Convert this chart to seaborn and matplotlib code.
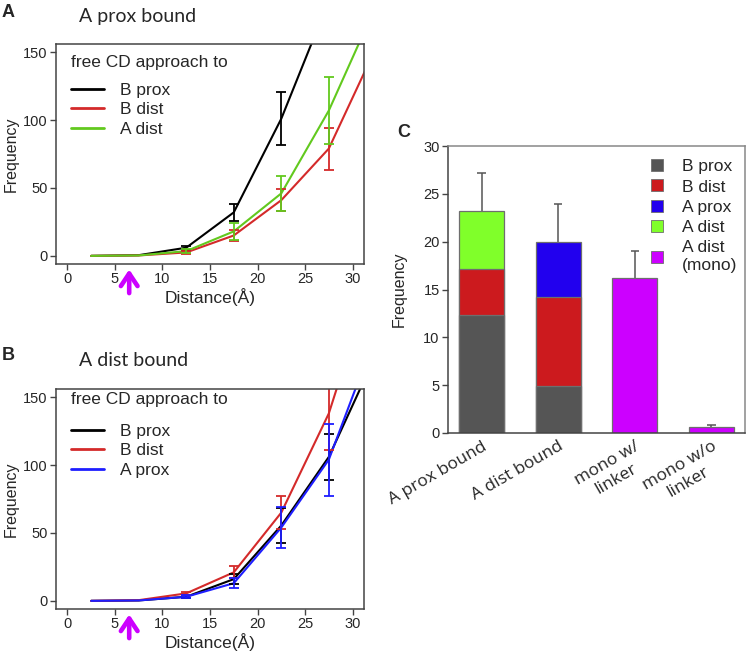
import numpy as np
import pandas as pd
import matplotlib
matplotlib.use('Agg')
import matplotlib.pyplot as plt
from matplotlib.lines import Line2D
import seaborn as sns

# ---- data ----
distance = [2.5, 7.5, 12.5, 17.5, 22.5, 27.5, 32.5]

# panel A: A prox bound
a_bprox = [0, 0.5, 6, 32, 101, 188, 260]
a_bprox_err = [0, 0, 1.5, 6, 19.5, 30, 0]
a_bdist = [0, 0.3, 2.5, 15, 41, 79, 154]
a_bdist_err = [0, 0, 1, 4, 8, 15.5, 0]
a_adist = [0, 0.3, 3.5, 18, 46, 107, 185]
a_adist_err = [0, 0, 1.2, 6, 13, 25, 0]

# panel B: A dist bound
b_bprox = [0, 0.3, 3, 16, 55.5, 106, 182]
b_bprox_err = [0, 0, 1, 3.5, 13, 17, 0]
b_bdist = [0, 0.5, 5.5, 21, 65, 138, 248]
b_bdist_err = [0, 0, 1.2, 4.5, 12.3, 27, 0]
b_aprox = [0, 0.3, 3, 13, 54, 104, 197]
b_aprox_err = [0, 0, 1, 3.5, 15, 26.5, 0]

# panel C: stacked bars
bar_cats = ["A prox bound", "A dist bound", "mono w/\nlinker", "mono w/o\nlinker"]
seg_bprox = [12.3, 4.9, 0, 0]
seg_bdist = [4.8, 9.35, 0, 0]
seg_aprox = [0, 5.75, 0, 0]
seg_adist = [6.1, 0, 0, 0]
seg_mono = [0, 0, 16.2, 0.6]
bar_err = [4.0, 3.9, 2.8, 0.25]

seg_names = ["B prox", "B dist", "A prox", "A dist", "A dist\n(mono)"]
seg_colors = ["#555555", "#CC1A1E", "#2200EE", "#80FF2A", "#CC00FF"]

line_colors = {"B prox": "#000000", "B dist": "#D42A2A",
               "A dist": "#62C91E", "A prox": "#1E1EFF"}

sns.set_style('ticks')
plt.rcParams['font.family'] = ['Liberation Sans', 'DejaVu Sans']
plt.rcParams['axes.edgecolor'] = '#444444'
plt.rcParams['axes.linewidth'] = 1.1

W, H = 747, 656
fig = plt.figure(figsize=(W / 100, H / 100), dpi=100)


def frac(px_left, px_top, px_w, px_h):
    return [px_left / W, 1 - (px_top + px_h) / H, px_w / W, px_h / H]


def line_panel(ax, series, legend_y, title_gap):
    rows = []
    for name, vals, errs in series:
        for x, v in zip(distance, vals):
            rows.append({"Distance": x, "Frequency": v, "series": name})
    df = pd.DataFrame(rows)
    sns.lineplot(data=df, x="Distance", y="Frequency", hue="series",
                 palette=line_colors, ax=ax, lw=1.5, legend=False,
                 hue_order=[s[0] for s in series])
    for name, vals, errs in series:
        xs = [x for x, e in zip(distance, errs) if e > 0]
        ys = [v for v, e in zip(vals, errs) if e > 0]
        es = [e for e in errs if e > 0]
        ax.errorbar(xs, ys, yerr=es, fmt='none', ecolor=line_colors[name],
                    elinewidth=1.3, capsize=3.5, capthick=1.3)
    ax.set_xlim(-1.2, 31.2)
    ax.set_ylim(-6, 156)
    ax.set_xticks([0, 5, 10, 15, 20, 25, 30])
    ax.set_yticks([0, 50, 100, 150])
    ax.tick_params(labelsize=10.5, length=4, width=1, color='#444444', pad=2)
    ax.set_xlabel("Distance(Å)", fontsize=12.5, labelpad=1)
    ax.set_ylabel("Frequency", fontsize=11.5, labelpad=3)
    handles = [Line2D([], [], color=line_colors[n], lw=2) for n, _, _ in series]
    leg = ax.legend(handles, [n for n, _, _ in series], title="free CD approach to",
                    loc='upper left', bbox_to_anchor=(15 / 308, legend_y),
                    frameon=False, fontsize=12.5, title_fontsize=12.5,
                    borderpad=0, borderaxespad=0, handlelength=1.9,
                    handletextpad=0.9, labelspacing=0.25)
    leg._legend_box.align = "left"
    leg._legend_box.sep = title_gap
    ax.annotate('', xy=(6.5, -0.012), xycoords=('data', 'axes fraction'),
                xytext=(6.5, -0.145), textcoords=('data', 'axes fraction'),
                arrowprops=dict(arrowstyle='->,head_length=0.45,head_width=0.3',
                                color='#CC00FF', lw=3.3, mutation_scale=20),
                annotation_clip=False)


axA = fig.add_axes(frac(56, 44, 308, 220))
line_panel(axA, [("B prox", a_bprox, a_bprox_err),
                 ("B dist", a_bdist, a_bdist_err),
                 ("A dist", a_adist, a_adist_err)], 1 - 11 / 220, 9)

axB = fig.add_axes(frac(56, 389, 308, 220))
line_panel(axB, [("B prox", b_bprox, b_bprox_err),
                 ("B dist", b_bdist, b_bdist_err),
                 ("A prox", b_aprox, b_aprox_err)], 1 - 3 / 220, 12)

# ---- panel C ----
axC = fig.add_axes(frac(448, 146, 297, 287))
segs = [seg_bprox, seg_bdist, seg_aprox, seg_adist, seg_mono]
cum = np.cumsum(np.array(segs), axis=0)
totals = cum[-1]
xpos = np.arange(len(bar_cats))
# upper-only error bars, drawn behind the bars
axC.vlines(xpos, totals, totals + np.array(bar_err), color='#555555', lw=1.1, zorder=0.5)
axC.hlines(totals + np.array(bar_err), xpos - 0.055, xpos + 0.055,
           color='#555555', lw=1.1, zorder=0.5)
for k in range(len(segs) - 1, -1, -1):
    keep = [i for i, v in enumerate(segs[k]) if v > 0]
    sns.barplot(x=[bar_cats[i] for i in keep], y=[cum[k][i] for i in keep],
                order=bar_cats, color=seg_colors[k], saturation=1,
                width=0.59, edgecolor='#6e6e6e', linewidth=0.9,
                errorbar=None, ax=axC)
axC.set_xlim(-0.44, 3.44)
axC.set_ylim(0, 30)
axC.set_yticks(range(0, 31, 5))
axC.set_ylabel("Frequency", fontsize=11.5, labelpad=12)
axC.set_xlabel("")
axC.tick_params(axis='y', labelsize=10.5, length=4, width=1, color='#444444', pad=2)
axC.tick_params(axis='x', length=0, pad=4)
axC.set_xticks(xpos)
axC.set_xticklabels(bar_cats, rotation=30, ha='right', rotation_mode='anchor',
                    multialignment='center', fontsize=12.5,
                    family=['Open Sans', 'DejaVu Sans'])
for s in ['top', 'right']:
    axC.spines[s].set_color('#888888')
c_handles = [Line2D([], [], marker='s', linestyle='none', markersize=9,
                    markerfacecolor=c, markeredgecolor='#6e6e6e', markeredgewidth=0.6)
             for c in seg_colors]
axC.legend(c_handles, seg_names, loc='upper right',
           bbox_to_anchor=(1 - 8 / 297, 1 - 13 / 287), frameon=False,
           fontsize=12.5, borderpad=0, borderaxespad=0, handlelength=1.0,
           handletextpad=0.9, labelspacing=0.3)

# ---- titles and panel letters ----
title_font = ['Lato', 'DejaVu Sans']
fig.text(79 / W, 1 - 22 / H, "A prox bound", fontsize=14, family=title_font, va='baseline')
fig.text(79 / W, 1 - 366 / H, "A dist bound", fontsize=14, family=title_font, va='baseline')
fig.text(2 / W, 1 - 4 / H, "A", fontsize=13, weight='bold', va='top')
fig.text(2 / W, 1 - 347 / H, "B", fontsize=13, weight='bold', va='top')
fig.text(397 / W, 1 - 124 / H, "C", fontsize=13, weight='bold', va='top')

fig.savefig("out.png", dpi=100)
